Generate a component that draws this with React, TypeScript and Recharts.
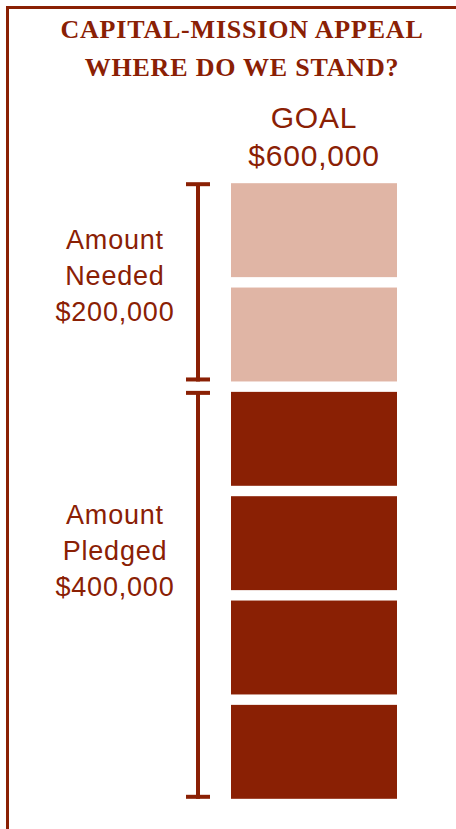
import React from 'react'
import { BarChart, Bar, XAxis, YAxis } from 'recharts'

// campaign data
const categories = ['Capital-Mission Appeal']
const pledged = [400000]
const needed = [200000]
const goal = 600000
const blockSize = 100000

const DARK = '#8A2004'
const LIGHT = '#E0B5A5'

const data = categories.map((name, i) => ({ name, pledged: pledged[i], needed: needed[i] }))

const money = (v: number) => '$' + v.toLocaleString('en-US')

// one bar split into blocks of blockSize with white gaps between them
function Blocks(props: any) {
  const { x, y, width, height, fill, amount, gap } = props
  const count = Math.max(1, Math.round(amount / blockSize))
  const step = height / count
  return (
    <g>
      {[...Array(count)].map((_, i) => (
        <rect key={i} x={x} y={y + i * step + gap / 2} width={width} height={step - gap} fill={fill} />
      ))}
    </g>
  )
}

// bracket + three-line caption to the left of a bar
function SideLabel(props: any) {
  const vb = props.viewBox || props
  const { x, y, height } = vb
  const { lines, shift, gap } = props
  const top = y + gap / 2
  const bottom = y + height - gap / 2
  const bx = x - 33
  const cx = x - 116
  const mid = y + height / 2 + 3 + shift
  return (
    <g>
      <rect x={bx - 2} y={top} width={4} height={bottom - top} fill={DARK} />
      <rect x={bx - 12} y={top - 1} width={24} height={4} fill={DARK} />
      <rect x={bx - 12} y={bottom - 4} width={24} height={4} fill={DARK} />
      {lines.map((t: string, i: number) => (
        <text
          key={i}
          x={cx}
          y={mid + (i - 1) * 36}
          textAnchor="middle"
          fill={DARK}
          fontSize={27}
          letterSpacing={0.8}
          fontFamily="'Liberation Sans', Arial, sans-serif"
        >
          {t}
        </text>
      ))}
    </g>
  )
}

function GoalLabel(props: any) {
  const vb = props.viewBox || props
  const { x, y, width } = vb
  const cx = x + width / 2
  return (
    <g fill={DARK} fontSize={30} letterSpacing={0.8} fontFamily="'Liberation Sans', Arial, sans-serif">
      <text x={cx} y={y - 50} textAnchor="middle">GOAL</text>
      <text x={cx} y={y - 12} textAnchor="middle">{money(goal)}</text>
    </g>
  )
}

export default function App() {
  const gap = 10.4
  return (
    <div style={{ position: 'absolute', left: 0, top: 0, width: 456, height: 829, overflow: 'hidden', background: '#fff' }}>
      <div
        style={{
          position: 'absolute',
          left: 6,
          top: 6,
          width: 470,
          height: 840,
          borderTop: `3px solid ${DARK}`,
          borderLeft: `3px solid ${DARK}`,
          boxSizing: 'border-box',
        }}
      />
      <div
        style={{
          position: 'absolute',
          left: 0,
          top: 11,
          width: 484,
          textAlign: 'center',
          color: DARK,
          fontFamily: "'Liberation Serif', 'Times New Roman', serif",
          fontWeight: 'bold',
          fontSize: 26,
          letterSpacing: 0.8,
          lineHeight: '38px',
        }}
      >
        CAPITAL-MISSION APPEAL
        <br />
        WHERE DO WE STAND?
      </div>
      <div style={{ position: 'absolute', left: 0, top: 0 }}>
        <BarChart
          width={456}
          height={829}
          data={data}
          margin={{ top: 178, right: 59, bottom: 25, left: 231 }}
          barCategoryGap={0}
        >
          <XAxis dataKey="name" hide />
          <YAxis hide width={0} domain={[0, goal]} />
          <Bar
            dataKey="pledged"
            stackId="a"
            fill={DARK}
            isAnimationActive={false}
            shape={(p: any) => <Blocks {...p} amount={p.payload.pledged} gap={gap} />}
            label={(p: any) => (
              <SideLabel {...p} gap={gap} shift={-38} lines={['Amount', 'Pledged', money(pledged[0])]} />
            )}
          />
          <Bar
            dataKey="needed"
            stackId="a"
            fill={LIGHT}
            isAnimationActive={false}
            shape={(p: any) => <Blocks {...p} amount={p.payload.needed} gap={gap} />}
            label={(p: any) => (
              <g>
                <SideLabel {...p} gap={gap} shift={0} lines={['Amount', 'Needed', money(needed[0])]} />
                <GoalLabel {...p} />
              </g>
            )}
          />
        </BarChart>
      </div>
    </div>
  )
}
